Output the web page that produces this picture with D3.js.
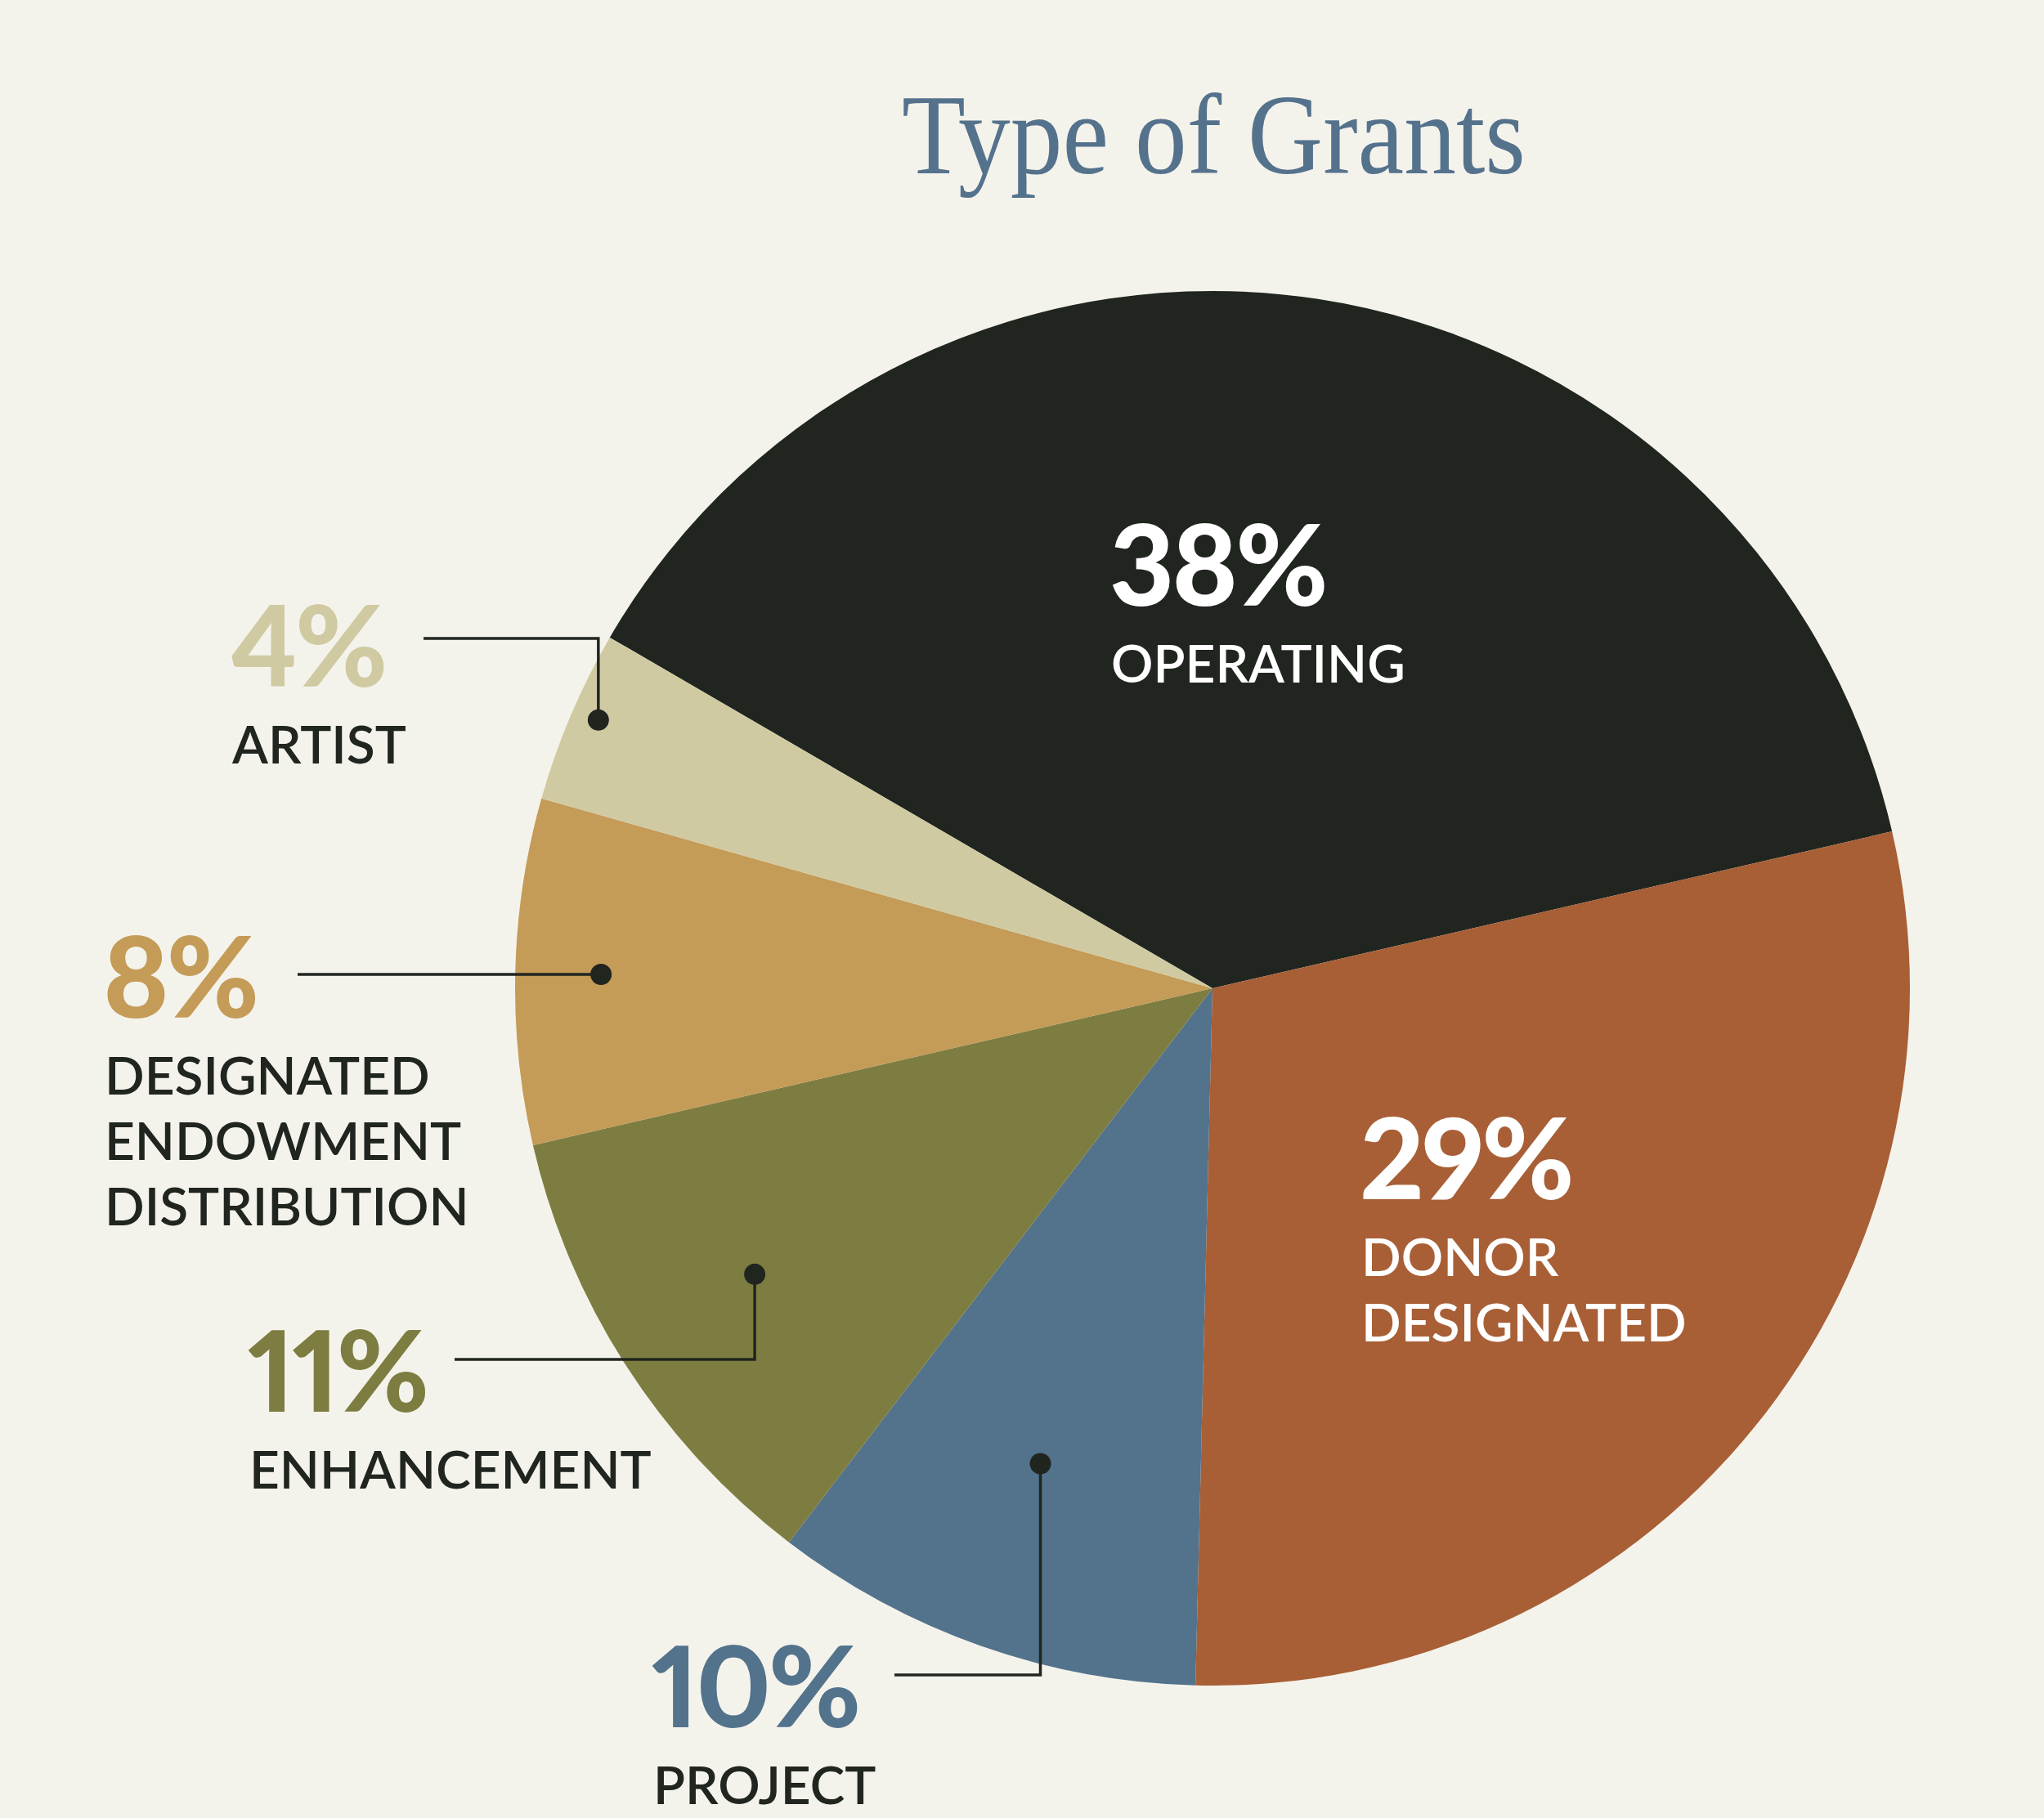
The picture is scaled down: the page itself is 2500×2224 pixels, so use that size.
<!DOCTYPE html>
<html>
<head>
<meta charset="utf-8">
<script src="https://cdn.jsdelivr.net/npm/d3@7"></script>
<style>
  html, body { margin: 0; padding: 0; background: #f4f3eb; }
  svg { display: block; }
</style>
</head>
<body>
<script>
// data
var categories = ["OPERATING", "DONOR DESIGNATED", "PROJECT", "ENHANCEMENT", "DESIGNATED ENDOWMENT DISTRIBUTION", "ARTIST"];
var values = [38, 29, 10, 11, 8, 4];
var colors = ["#212520", "#a85f36", "#53728c", "#7e7d41", "#c49b57", "#d0caa2"];
var labelLines = [["OPERATING"], ["DONOR", "DESIGNATED"], ["PROJECT"], ["ENHANCEMENT"], ["DESIGNATED", "ENDOWMENT", "DISTRIBUTION"], ["ARTIST"]];

var width = 2500, height = 2224;
var cx = 1483, cy = 1209, radius = 853;

var svg = d3.select("body").append("svg").attr("width", width).attr("height", height);
svg.append("rect").attr("width", width).attr("height", height).attr("fill", "#f4f3eb");

// title
svg.append("text")
    .attr("x", 1103).attr("y", 212)
    .attr("textLength", 763).attr("lengthAdjust", "spacingAndGlyphs")
    .style("font-family", "'Liberation Serif', serif")
    .style("font-size", "139px")
    .attr("fill", "#55728d")
    .text("Type of Grants");

var pie = d3.pie().sort(null).value(function(d) { return d; })
    .startAngle(-59.8 * Math.PI / 180).endAngle(300.2 * Math.PI / 180);
var arcs = pie(values);
var arc = d3.arc().innerRadius(0).outerRadius(radius);

var g = svg.append("g").attr("transform", "translate(" + cx + "," + cy + ")");
g.selectAll("path").data(arcs).enter().append("path")
    .attr("d", arc)
    .attr("fill", function(d, i) { return colors[i]; });

// label placement (text anchors, callout dot radius fraction / angle nudge)
var layout = [
  { x: 1357, y: 741, pctColor: "#ffffff", txtColor: "#ffffff", dot: null },
  { x: 1663, y: 1467, pctColor: "#ffffff", txtColor: "#ffffff", dot: null },
  { x: 797, y: 2113, pctColor: "#53728c", txtColor: "#212520", dot: { r: 0.725, da: 0.5, kind: "down", end: [1094, 2049] } },
  { x: 303, y: 1727, pctColor: "#7e7d41", txtColor: "#212520", dot: { r: 0.774, da: 0.8, kind: "down", end: [556, 1663] } },
  { x: 126, y: 1245, pctColor: "#c49b57", txtColor: "#212520", dot: { r: 0.877, da: -0.1, kind: "flat", end: [364, 0] } },
  { x: 282, y: 840, pctColor: "#d0caa2", txtColor: "#212520", dot: { r: 0.961, da: 0.6, kind: "up", end: [518, 781] } }
];

arcs.forEach(function(a, i) {
  var L = layout[i];
  svg.append("text")
      .attr("x", L.x).attr("y", L.y)
      .style("font-family", "Lato, sans-serif")
      .style("font-weight", 900)
      .style("font-size", "137px")
      .style("font-variant-numeric", "proportional-nums")
      .style("letter-spacing", "-3px")
      .attr("fill", L.pctColor)
      .text(values[i] + "%");
  labelLines[i].forEach(function(line, j) {
    svg.append("text")
        .attr("x", L.x + 2).attr("y", L.y + 94 + j * 80)
        .style("font-family", "Lato, sans-serif")
        .style("font-weight", 600)
        .style("font-size", "64px")
        .attr("fill", L.txtColor)
        .text(line);
  });
  if (L.dot) {
    var ang = (a.startAngle + a.endAngle) / 2 + L.dot.da * Math.PI / 180;
    var r = radius * L.dot.r;
    var dx = cx + r * Math.sin(ang), dy = cy - r * Math.cos(ang);
    var pts;
    if (L.dot.kind === "flat") pts = [[L.dot.end[0], dy], [dx, dy]];
    else pts = [[L.dot.end[0], L.dot.end[1]], [dx, L.dot.end[1]], [dx, dy]];
    svg.append("path")
        .attr("d", d3.line()(pts))
        .attr("fill", "none").attr("stroke", "#212520").attr("stroke-width", 3.5);
    svg.append("circle").attr("cx", dx).attr("cy", dy).attr("r", 13).attr("fill", "#212520");
  }
});
</script>
</body>
</html>
